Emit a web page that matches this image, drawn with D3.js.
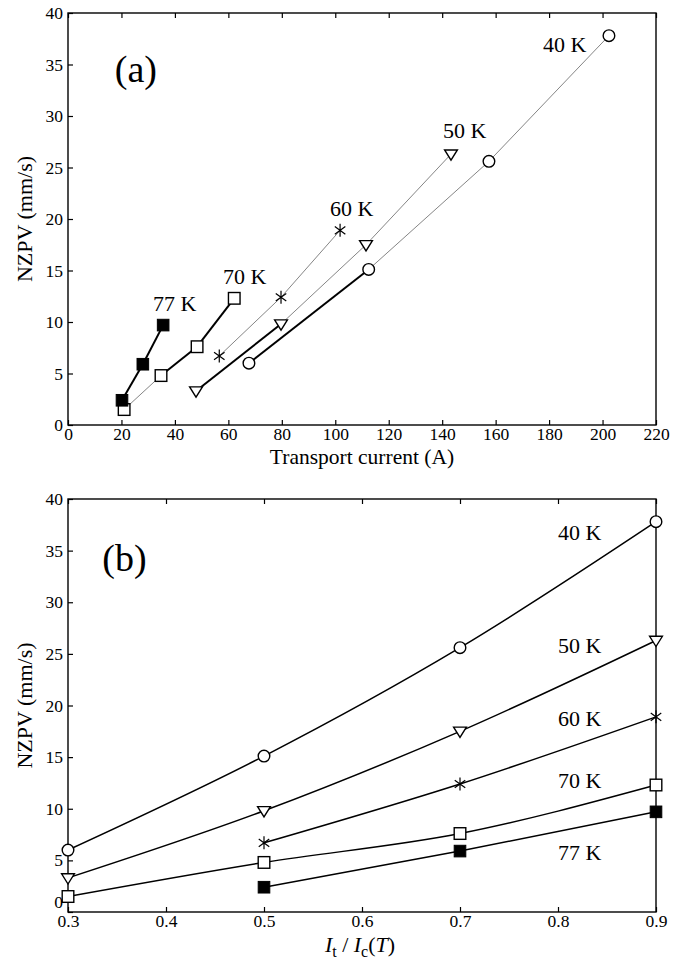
<!DOCTYPE html>
<html>
<head>
<meta charset="utf-8">
<script src="https://cdn.jsdelivr.net/npm/d3@7"></script>
<style>
  body { margin: 0; background: #fff; }
  svg { display: block; }
  svg text { font-family: "Liberation Serif", "Times New Roman", serif !important; fill: #000; }
</style>
</head>
<body>
<svg id="fig" width="686" height="960"></svg>
<script>
// Normal-zone propagation velocity versus transport current, per temperature
const temperatures = ["40 K", "50 K", "60 K", "70 K", "77 K"];

const current40K = [67.7, 112.5, 157.5, 202.4];
const current50K = [47.9, 79.7, 111.5, 143.3];
const current60K = [56.6, 79.7, 101.8];
const current70K = [21.0, 34.8, 48.3, 62.2];
const current77K = [20.2, 28.0, 35.6];

const ratio40K = [0.3, 0.5, 0.7, 0.9];
const ratio50K = [0.3, 0.5, 0.7, 0.9];
const ratio60K = [0.5, 0.7, 0.9];
const ratio70K = [0.3, 0.5, 0.7, 0.9];
const ratio77K = [0.5, 0.7, 0.9];

const nzpv40K = [6.0, 15.1, 25.6, 37.8];
const nzpv50K = [3.3, 9.8, 17.5, 26.3];
const nzpv60K = [6.7, 12.4, 18.9];
const nzpv70K = [1.5, 4.8, 7.6, 12.3];
const nzpv77K = [2.4, 5.9, 9.7];

const currentTicks = [0, 20, 40, 60, 80, 100, 120, 140, 160, 180, 200, 220];
const ratioTicks = [0.3, 0.4, 0.5, 0.6, 0.7, 0.8, 0.9];
const nzpvTicks = [0, 5, 10, 15, 20, 25, 30, 35, 40];

const currents = [current40K, current50K, current60K, current70K, current77K];
const ratios = [ratio40K, ratio50K, ratio60K, ratio70K, ratio77K];
const nzpvs = [nzpv40K, nzpv50K, nzpv60K, nzpv70K, nzpv77K];

// ---- drawing ----
const SERIF = '"Liberation Serif", "Times New Roman", serif';
const svg = d3.select("#fig");
const left = 68, right = 656;

// segments (by start index) drawn with the heavy pen in panel (a)
const heavySegments = { "40 K": [0], "50 K": [0], "60 K": [], "70 K": [1, 2], "77 K": [0, 1] };
const markerKind = { "40 K": "circle", "50 K": "triangle", "60 K": "star", "70 K": "square", "77 K": "filled" };

function drawMarker(g, kind, x, y) {
  if (kind === "circle") {
    g.append("circle").attr("cx", x).attr("cy", y).attr("r", 5.8)
      .attr("fill", "#fff").attr("stroke", "#000").attr("stroke-width", 1.4);
  } else if (kind === "triangle") {
    const s = 6.4;
    g.append("path")
      .attr("d", `M${x - s},${y - s * 0.65}L${x + s},${y - s * 0.65}L${x},${y + s * 0.95}Z`)
      .attr("fill", "#fff").attr("stroke", "#000").attr("stroke-width", 1.4);
  } else if (kind === "star") {
    const s = 6.5;
    const p = d3.path();
    p.moveTo(x, y - s); p.lineTo(x, y + s);
    const a = Math.PI / 5;
    p.moveTo(x - s * Math.cos(a), y - s * Math.sin(a)); p.lineTo(x + s * Math.cos(a), y + s * Math.sin(a));
    p.moveTo(x - s * Math.cos(a), y + s * Math.sin(a)); p.lineTo(x + s * Math.cos(a), y - s * Math.sin(a));
    g.append("path").attr("d", p.toString()).attr("stroke", "#000").attr("stroke-width", 1.2).attr("fill", "none");
  } else if (kind === "square") {
    const s = 5.8;
    g.append("rect").attr("x", x - s).attr("y", y - s).attr("width", 2 * s).attr("height", 2 * s)
      .attr("fill", "#fff").attr("stroke", "#000").attr("stroke-width", 1.4);
  } else {
    const s = 5.8;
    g.append("rect").attr("x", x - s).attr("y", y - s).attr("width", 2 * s).attr("height", 2 * s)
      .attr("fill", "#000").attr("stroke", "#000").attr("stroke-width", 1);
  }
}

function frame(g, x, y, xTicks, yTicks, fmtX, zeroLift) {
  const [bottom, top] = y.range();
  // inward ticks on bottom, top and left
  g.append("g").attr("transform", `translate(0,${bottom})`)
    .call(d3.axisBottom(x).tickValues(xTicks).tickSizeInner(-5).tickSizeOuter(0).tickPadding(3).tickFormat(fmtX))
    .call(a => a.attr("font-family", SERIF).attr("font-size", 17.5))
    .call(a => a.select(".domain").remove())
    .call(a => a.selectAll("text").attr("dy", "0.71em").style("font-family", SERIF).style("font-size", "17.5px"))
    .call(a => a.selectAll("line").attr("stroke-width", 1.2));
  g.append("g").attr("transform", `translate(0,${top})`)
    .call(d3.axisTop(x).tickValues(xTicks).tickSizeInner(-5).tickSizeOuter(0).tickFormat(""))
    .call(a => a.select(".domain").remove())
    .call(a => a.selectAll("line").attr("stroke-width", 1.2));
  g.append("g").attr("transform", `translate(${left},0)`)
    .call(d3.axisLeft(y).tickValues(yTicks).tickSizeInner(-5).tickSizeOuter(0).tickPadding(5))
    .call(a => a.attr("font-family", SERIF).attr("font-size", 17.5))
    .call(a => a.select(".domain").remove())
    .call(a => a.selectAll("text").style("font-family", SERIF).style("font-size", "17.5px"))
    .call(a => a.selectAll("text").filter(d => d === 0).attr("y", -zeroLift))
    .call(a => a.selectAll("line").attr("stroke-width", 1.2));
  g.append("rect").attr("x", left).attr("y", top).attr("width", right - left).attr("height", bottom - top)
    .attr("fill", "none").attr("stroke", "#000").attr("stroke-width", 1.4);
  g.append("text")
    .attr("transform", `translate(32,${(top + bottom) / 2}) rotate(-90)`)
    .attr("text-anchor", "middle").style("font-family", SERIF).attr("font-size", 22).text("NZPV (mm/s)");
}

// ---------- panel (a) ----------
const xa = d3.scaleLinear().domain([0, 220]).range([left, right]);
const ya = d3.scaleLinear().domain([0, 40]).range([425, 13]);
const ga = svg.append("g");
frame(ga, xa, ya, currentTicks, nzpvTicks, d3.format("d"), 0);

temperatures.forEach((t, i) => {
  const xs = currents[i], ys = nzpvs[i];
  for (let k = 0; k < xs.length - 1; k++) {
    const heavy = heavySegments[t].includes(k);
    ga.append("line")
      .attr("x1", xa(xs[k])).attr("y1", ya(ys[k]))
      .attr("x2", xa(xs[k + 1])).attr("y2", ya(ys[k + 1]))
      .attr("stroke", heavy ? "#000" : "#777")
      .attr("stroke-width", heavy ? 2 : 0.9);
  }
});
temperatures.forEach((t, i) => {
  currents[i].forEach((c, k) => drawMarker(ga, markerKind[t], xa(c), ya(nzpvs[i][k])));
});

// temperature labels in data coordinates
const labelA = { "40 K": [177.7, 36.2], "50 K": [140.3, 27.9], "60 K": [98, 20.3], "70 K": [58, 13.7], "77 K": [31.8, 11.1] };
temperatures.forEach(t => {
  ga.append("text").attr("x", xa(labelA[t][0])).attr("y", ya(labelA[t][1]))
    .style("font-family", SERIF).attr("font-size", 22).text(t);
});
ga.append("text").attr("x", xa(17.5)).attr("y", ya(33.3)).style("font-family", SERIF).attr("font-size", 38).text("(a)");
ga.append("text").attr("x", (left + right) / 2).attr("y", 464).attr("text-anchor", "middle")
  .style("font-family", SERIF).attr("font-size", 21.5).text("Transport current (A)");

// ---------- panel (b) ----------
const xb = d3.scaleLinear().domain([0.3, 0.9]).range([left, right]);
const yb = d3.scaleLinear().domain([0, 40]).range([912, 499]);
const gb = svg.append("g");
frame(gb, xb, yb, ratioTicks, nzpvTicks, d3.format(".1f"), 10);

const curve = d3.line().curve(d3.curveMonotoneX);
temperatures.forEach((t, i) => {
  const pts = ratios[i].map((r, k) => [xb(r), yb(nzpvs[i][k])]);
  gb.append("path").attr("d", curve(pts)).attr("fill", "none")
    .attr("stroke", "#000").attr("stroke-width", 1.5);
});
temperatures.forEach((t, i) => {
  ratios[i].forEach((r, k) => drawMarker(gb, markerKind[t], xb(r), yb(nzpvs[i][k])));
});

const labelB = { "40 K": [0.8, 36.0], "50 K": [0.8, 25.1], "60 K": [0.8, 18.0], "70 K": [0.8, 12.0], "77 K": [0.8, 5.0] };
temperatures.forEach(t => {
  gb.append("text").attr("x", xb(labelB[t][0])).attr("y", yb(labelB[t][1]))
    .style("font-family", SERIF).attr("font-size", 22).text(t);
});
gb.append("text").attr("x", xb(0.335)).attr("y", yb(33.0)).style("font-family", SERIF).attr("font-size", 38).text("(b)");

const xt = gb.append("text").attr("x", 360).attr("y", 952).attr("text-anchor", "middle")
  .style("font-family", SERIF).attr("font-size", 22);
xt.append("tspan").attr("font-style", "italic").text("I");
xt.append("tspan").attr("font-size", 16).attr("dy", 5).text("t");
xt.append("tspan").attr("dy", -5).text(" / ");
xt.append("tspan").attr("font-style", "italic").text("I");
xt.append("tspan").attr("font-size", 16).attr("dy", 5).text("c");
xt.append("tspan").attr("dy", -5).text("(");
xt.append("tspan").attr("font-style", "italic").text("T");
xt.append("tspan").text(")");
</script>
</body>
</html>
